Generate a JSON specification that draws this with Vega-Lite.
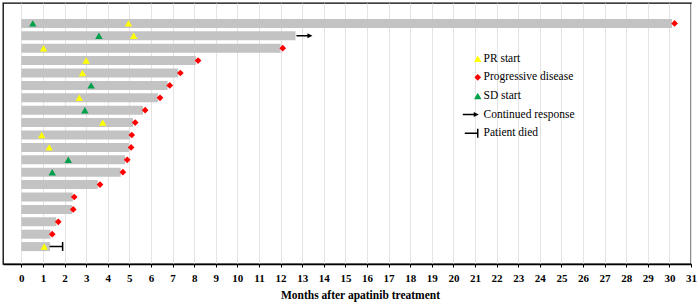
{
  "$schema": "https://vega.github.io/schema/vega-lite/v6.json",
  "width": 688,
  "height": 261,
  "autosize": {"type": "none"},
  "padding": {"left": 3, "top": 3, "right": 8, "bottom": 41},
  "background": "white",
  "config": {
    "view": {"stroke": "black", "strokeWidth": 1.3},
    "font": "Liberation Serif",
    "axisX": {
      "titleFont": "Liberation Serif",
      "titleFontWeight": "bold",
      "titleFontSize": 11.5,
      "titleColor": "black",
      "titlePadding": 6,
      "titleX": 357,
      "labelFont": "Liberation Serif",
      "labelFontWeight": "bold",
      "labelFontSize": 11,
      "labelColor": "black",
      "labelPadding": 5,
      "labelFlush": false,
      "labelOverlap": false,
      "domainColor": "black",
      "domainWidth": 1.5,
      "tickColor": "black",
      "tickSize": 3,
      "tickWidth": 1,
      "grid": true,
      "gridColor": "#e3e3e3",
      "gridWidth": 1
    }
  },
  "datasets": {
    "bars": [
      {"patient": 1, "start": 0, "end": 30.12},
      {"patient": 2, "start": 0, "end": 12.69},
      {"patient": 3, "start": 0, "end": 12.0},
      {"patient": 4, "start": 0, "end": 8.08},
      {"patient": 5, "start": 0, "end": 7.26},
      {"patient": 6, "start": 0, "end": 6.77},
      {"patient": 7, "start": 0, "end": 6.32},
      {"patient": 8, "start": 0, "end": 5.63},
      {"patient": 9, "start": 0, "end": 5.17},
      {"patient": 10, "start": 0, "end": 5.01},
      {"patient": 11, "start": 0, "end": 4.98},
      {"patient": 12, "start": 0, "end": 4.8},
      {"patient": 13, "start": 0, "end": 4.6},
      {"patient": 14, "start": 0, "end": 3.54},
      {"patient": 15, "start": 0, "end": 2.38},
      {"patient": 16, "start": 0, "end": 2.35},
      {"patient": 17, "start": 0, "end": 1.62},
      {"patient": 18, "start": 0, "end": 1.35},
      {"patient": 19, "start": 0, "end": 1.33}
    ],
    "events": [
      {"patient": 1, "months": 0.53, "event": "SD start"},
      {"patient": 1, "months": 4.96, "event": "PR start"},
      {"patient": 1, "months": 30.24, "event": "Progressive disease"},
      {"patient": 2, "months": 3.59, "event": "SD start"},
      {"patient": 2, "months": 5.2, "event": "PR start"},
      {"patient": 2, "months": 13.43, "event": "Continued response"},
      {"patient": 3, "months": 1.03, "event": "PR start"},
      {"patient": 3, "months": 12.1, "event": "Progressive disease"},
      {"patient": 4, "months": 3.0, "event": "PR start"},
      {"patient": 4, "months": 8.18, "event": "Progressive disease"},
      {"patient": 5, "months": 2.83, "event": "PR start"},
      {"patient": 5, "months": 7.36, "event": "Progressive disease"},
      {"patient": 6, "months": 3.23, "event": "SD start"},
      {"patient": 6, "months": 6.87, "event": "Progressive disease"},
      {"patient": 7, "months": 2.68, "event": "PR start"},
      {"patient": 7, "months": 6.42, "event": "Progressive disease"},
      {"patient": 8, "months": 2.94, "event": "SD start"},
      {"patient": 8, "months": 5.73, "event": "Progressive disease"},
      {"patient": 9, "months": 3.77, "event": "PR start"},
      {"patient": 9, "months": 5.27, "event": "Progressive disease"},
      {"patient": 10, "months": 0.94, "event": "PR start"},
      {"patient": 10, "months": 5.11, "event": "Progressive disease"},
      {"patient": 11, "months": 1.29, "event": "PR start"},
      {"patient": 11, "months": 5.08, "event": "Progressive disease"},
      {"patient": 12, "months": 2.17, "event": "SD start"},
      {"patient": 12, "months": 4.9, "event": "Progressive disease"},
      {"patient": 13, "months": 1.43, "event": "SD start"},
      {"patient": 13, "months": 4.7, "event": "Progressive disease"},
      {"patient": 14, "months": 3.64, "event": "Progressive disease"},
      {"patient": 15, "months": 2.45, "event": "Progressive disease"},
      {"patient": 16, "months": 2.4, "event": "Progressive disease"},
      {"patient": 17, "months": 1.71, "event": "Progressive disease"},
      {"patient": 18, "months": 1.43, "event": "Progressive disease"},
      {"patient": 19, "months": 1.06, "event": "PR start"},
      {"patient": 19, "months": 1.91, "event": "Patient died"}
    ]
  },
  "layer": [
    {
      "data": {"name": "bars"},
      "mark": {"type": "bar", "height": 9, "color": "#c3c3c3"},
      "encoding": {
        "y": {
          "field": "patient",
          "type": "quantitative",
          "scale": {"domain": [-0.24, 20], "reverse": true, "nice": false, "zero": false},
          "axis": null
        },
        "x": {
          "field": "start",
          "type": "quantitative",
          "scale": {"domain": [-0.85, 31], "nice": false, "zero": false},
          "title": "Months after apatinib treatment",
          "axis": {
            "values": [0,1,2,3,4,5,6,7,8,9,10,11,12,13,14,15,16,17,18,19,20,21,22,23,24,25,26,27,28,29,30,31],
            "labelOverlap": false,
            "tickCount": 32
          }
        },
        "x2": {"field": "end"}
      }
    },
    {
      "data": {"name": "events"},
      "mark": {"type": "point", "filled": true, "opacity": 1, "strokeWidth": 0},
      "encoding": {
        "x": {
          "field": "months",
          "type": "quantitative",
          "title": "Months after apatinib treatment",
          "axis": {
            "values": [0,1,2,3,4,5,6,7,8,9,10,11,12,13,14,15,16,17,18,19,20,21,22,23,24,25,26,27,28,29,30,31],
            "labelOverlap": false,
            "tickCount": 32
          }
        },
        "y": {"field": "patient", "type": "quantitative"},
        "color": {
          "field": "event",
          "type": "nominal",
          "scale": {
            "domain": ["PR start", "Progressive disease", "SD start", "Continued response", "Patient died"],
            "range": ["#ffff00", "#ff0000", "#00a04a", "#000000", "#000000"]
          },
          "legend": {
            "orient": "none",
            "legendX": 469,
            "legendY": 50,
            "title": null,
            "labelFont": "Liberation Serif",
            "labelFontSize": 11.5,
            "labelColor": "black",
            "labelOffset": 0,
            "rowPadding": 5.6,
            "symbolStrokeWidth": 0
          }
        },
        "shape": {
          "field": "event",
          "type": "nominal",
          "scale": {
            "domain": ["PR start", "Progressive disease", "SD start", "Continued response", "Patient died"],
            "range": [
              "triangle-up",
              "diamond",
              "triangle-up",
              "M-3,-0.15L-0.8,-0.15L-0.8,-0.5L0.2,0L-0.8,0.5L-0.8,0.15L-3,0.15Z",
              "M-2.6,-0.15L-0.15,-0.15L-0.15,-0.9L0.15,-0.9L0.15,0.9L-0.15,0.9L-0.15,0.15L-2.6,0.15Z"
            ]
          }
        },
        "size": {
          "field": "event",
          "type": "nominal",
          "scale": {
            "type": "ordinal",
            "domain": ["PR start", "Progressive disease", "SD start", "Continued response", "Patient died"],
            "range": [55, 45, 55, 100, 100]
          }
        }
      }
    }
  ]
}
